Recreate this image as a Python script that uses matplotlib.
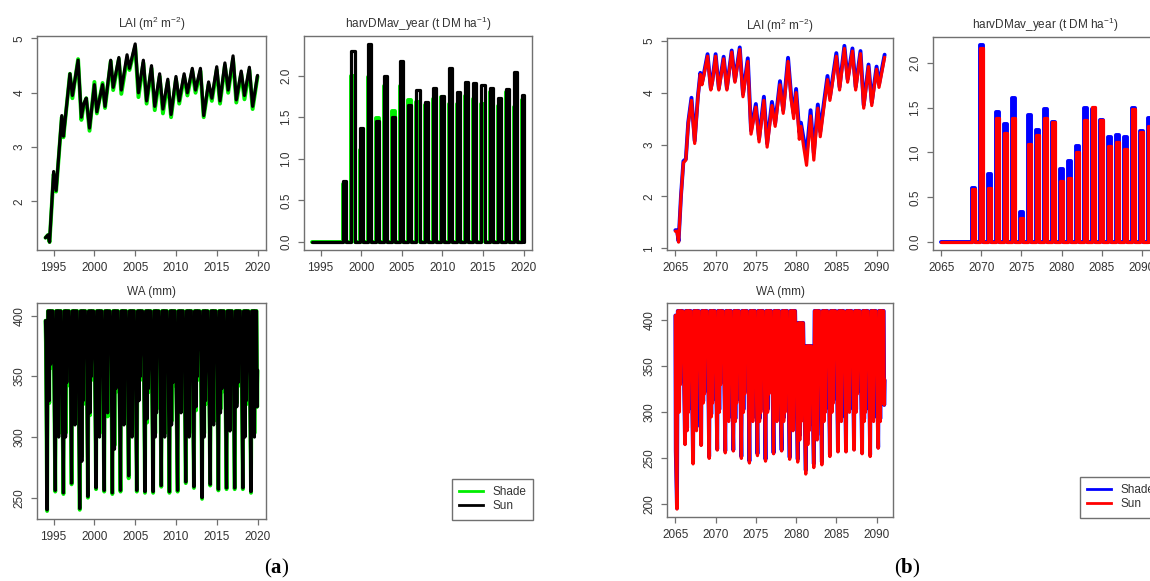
import matplotlib
matplotlib.use("Agg")
import matplotlib.pyplot as plt
from matplotlib.lines import Line2D

plt.rcParams['font.family'] = ['Liberation Sans', 'DejaVu Sans']
plt.rcParams['mathtext.fontset'] = 'custom'
plt.rcParams['mathtext.rm'] = 'Liberation Sans'
plt.rcParams['mathtext.it'] = 'Liberation Sans'
plt.rcParams['mathtext.bf'] = 'Liberation Serif:bold'

# ---------------- data, panel (a) 1994-2020 ----------------
lai_a_t = [1994.0, 1994.3, 1994.5, 1995.0, 1995.3, 1996.0, 1996.2, 1997.0, 1997.3,
           1998.0, 1998.4, 1998.7, 1999.0, 1999.4, 2000.0, 2000.3, 2001.0, 2001.3,
           2002.0, 2002.3, 2003.0, 2003.3, 2004.0, 2004.3, 2005.0, 2005.4, 2006.0,
           2006.4, 2007.0, 2007.4, 2008.0, 2008.4, 2009.0, 2009.4, 2010.0, 2010.4,
           2011.0, 2011.4, 2012.0, 2012.4, 2013.0, 2013.4, 2014.0, 2014.4, 2015.0,
           2015.4, 2016.0, 2016.4, 2017.0, 2017.4, 2018.0, 2018.4, 2019.0, 2019.4, 2020.0]
lai_a_sun = [1.33, 1.38, 1.25, 2.55, 2.2, 3.58, 3.2, 4.35, 3.95,
             4.6, 3.55, 3.8, 3.9, 3.35, 4.15, 3.65, 4.15, 3.75,
             4.6, 4.1, 4.65, 4.05, 4.7, 4.45, 4.9, 4.0, 4.6,
             3.85, 4.5, 3.75, 4.35, 3.7, 4.25, 3.6, 4.3, 3.85,
             4.35, 4.0, 4.45, 4.05, 4.45, 3.58, 4.2, 3.9, 4.48,
             3.85, 4.55, 4.05, 4.68, 3.87, 4.4, 3.95, 4.47, 3.75, 4.32]
lai_a_shade = [1.33, 1.38, 1.25, 2.5, 2.18, 3.55, 3.18, 4.35, 3.9,
               4.62, 3.5, 3.78, 3.9, 3.3, 4.2, 3.62, 4.18, 3.72,
               4.58, 4.05, 4.62, 3.98, 4.62, 4.42, 4.85, 3.92, 4.55,
               3.8, 4.45, 3.68, 4.3, 3.62, 4.2, 3.55, 4.25, 3.8,
               4.3, 3.95, 4.4, 4.0, 4.4, 3.55, 4.15, 3.85, 4.42,
               3.8, 4.5, 4.0, 4.62, 3.82, 4.35, 3.88, 4.42, 3.7, 4.3]

harv_a_years = list(range(1998, 2021))
harv_a_sun = [0.73, 2.30, 1.37, 2.38, 1.46, 2.00, 1.50, 2.18, 1.65, 1.83, 1.68, 1.85,
              1.76, 2.09, 1.80, 1.92, 1.91, 1.89, 1.85, 1.73, 1.84, 2.04, 1.77]
harv_a_shade = [0.70, 2.00, 1.10, 1.98, 1.49, 1.87, 1.57, 1.87, 1.71, 1.68, 1.65, 1.72,
                1.74, 1.66, 1.66, 1.76, 1.72, 1.66, 1.80, 1.64, 1.80, 1.62, 1.71]

wa_a_years = list(range(1994, 2020))
wa_a_peak = [404, 404, 404, 404, 404, 404, 404, 404, 404, 404, 404, 404, 404,
             404, 404, 404, 404, 404, 404, 404, 404, 404, 404, 404, 404, 404]
wa_a_mid_sun = [380, 355, 335, 370, 345, 365, 360, 350, 375, 345, 360, 340, 365,
                350, 370, 355, 330, 360, 345, 370, 350, 365, 340, 355, 360, 350]
wa_a_min_sun = [240, 256, 254, 262, 241, 251, 258, 256, 254, 256, 268, 256, 255,
                255, 260, 255, 256, 263, 259, 250, 261, 257, 258, 258, 258, 255]
wa_a_dip_sun = [330, 350, 300, 340, 280, 320, 310, 350, 290, 340, 345, 330, 315,
                300, 330, 310, 340, 330, 325, 300, 345, 320, 335, 325, 300, 330]
wa_a_dip2_sun = [360, 300, 345, 310, 330, 350, 300, 320, 340, 310, 300, 350, 340,
                 320, 300, 345, 320, 300, 350, 330, 310, 340, 305, 345, 330, 300]
wa_a_mid_shade = [378, 352, 338, 368, 342, 362, 358, 352, 372, 348, 356, 342, 362,
                  352, 366, 352, 334, 358, 348, 366, 352, 362, 344, 352, 357, 352]
wa_a_min_shade = [239, 255, 253, 261, 240, 250, 257, 255, 253, 255, 266, 255, 254,
                  254, 259, 254, 255, 262, 258, 249, 260, 256, 257, 257, 257, 254]
wa_a_dip_shade = [328, 348, 303, 337, 284, 318, 313, 347, 293, 337, 342, 333, 312,
                  303, 327, 313, 337, 333, 322, 303, 342, 323, 332, 328, 303, 327]
wa_a_dip2_shade = [357, 303, 342, 313, 327, 347, 303, 317, 337, 313, 303, 347, 337,
                   323, 303, 342, 323, 303, 347, 327, 313, 337, 308, 342, 327, 303]
wa_a_start = (1994.0, 396)
wa_a_end_t = [2019.96, 2020.0]
wa_a_end_v = [325, 355]

# ---------------- data, panel (b) 2065-2091 ----------------
lai_b_t = [2065.0, 2065.2, 2065.4, 2065.7, 2066.0, 2066.3, 2066.6, 2067.0, 2067.4, 2067.8,
           2068.1, 2068.3, 2068.5, 2069.0, 2069.4, 2069.6, 2070.0, 2070.4, 2071.0, 2071.4,
           2072.0, 2072.4, 2073.0, 2073.4, 2074.0, 2074.4, 2075.0, 2075.4, 2076.0, 2076.4,
           2077.0, 2077.4, 2078.0, 2078.4, 2079.0, 2079.4, 2079.7, 2080.0, 2080.4, 2080.6,
           2080.9, 2081.3, 2081.8, 2082.2, 2082.7, 2083.0, 2083.4, 2083.9, 2084.2, 2085.0,
           2085.4, 2086.0, 2086.4, 2087.0, 2087.4, 2088.0, 2088.4, 2089.0, 2089.4, 2090.0,
           2090.3, 2091.0]
lai_b_sun = [1.33, 1.33, 1.12, 2.0, 2.65, 2.7, 3.4, 3.85, 3.02, 3.9,
             4.35, 4.15, 4.3, 4.7, 4.05, 4.2, 4.7, 4.05, 4.65, 4.05,
             4.78, 4.2, 4.83, 3.92, 4.6, 3.2, 3.72, 3.05, 3.85, 2.95,
             3.75, 3.35, 4.15, 3.6, 4.6, 3.85, 3.5, 4.0, 3.1, 3.35,
             3.0, 2.6, 3.55, 2.7, 3.7, 3.15, 3.65, 4.25, 3.85, 4.7,
             4.05, 4.85, 4.2, 4.8, 4.05, 4.75, 3.7, 4.5, 3.75, 4.45,
             4.1, 4.68]
lai_b_shade = [1.35, 1.35, 1.14, 2.02, 2.68, 2.72, 3.43, 3.9, 3.07, 3.93,
               4.38, 4.18, 4.33, 4.74, 4.08, 4.23, 4.74, 4.08, 4.69, 4.08,
               4.81, 4.23, 4.87, 3.97, 4.66, 3.27, 3.78, 3.11, 3.92, 3.02,
               3.82, 3.41, 4.22, 3.66, 4.67, 3.91, 3.6, 4.07, 3.24, 3.42,
               3.14, 2.82, 3.66, 2.84, 3.77, 3.25, 3.74, 4.32, 3.91, 4.76,
               4.11, 4.9, 4.26, 4.85, 4.11, 4.8, 3.76, 4.54, 3.81, 4.5,
               4.16, 4.73]

harv_b_years = list(range(2069, 2092))
harv_b_shade = [0.60, 2.20, 0.76, 1.45, 1.32, 1.61, 0.34, 1.42, 1.25, 1.49, 1.34, 0.82,
                0.91, 1.07, 1.50, 1.48, 1.36, 1.17, 1.19, 1.17, 1.50, 1.24, 1.38]
harv_b_sun = [0.59, 2.17, 0.60, 1.38, 1.22, 1.39, 0.27, 1.10, 1.20, 1.38, 1.34, 0.68,
              0.72, 1.01, 1.36, 1.51, 1.36, 1.07, 1.12, 1.04, 1.48, 1.23, 1.30]

wa_b_years = list(range(2065, 2091))
wa_b_peak = [410, 410, 410, 410, 410, 410, 410, 410, 410, 410, 410, 410, 410,
             410, 410, 397, 372, 410, 410, 410, 410, 410, 410, 410, 410, 410]
wa_b_mid_sun = [258, 350, 330, 350, 360, 340, 350, 330, 345, 360, 335, 350, 340,
                320, 330, 320, 300, 310, 330, 350, 360, 345, 350, 340, 345, 340]
wa_b_min_sun = [195, 265, 244, 264, 250, 259, 256, 258, 250, 245, 253, 247, 255,
                258, 249, 246, 233, 240, 243, 252, 257, 257, 259, 255, 252, 261]
wa_b_dip_sun = [300, 280, 300, 310, 295, 300, 320, 290, 300, 310, 290, 300, 310,
                290, 285, 270, 265, 280, 290, 300, 320, 310, 300, 290, 300, 290]
wa_b_dip2_sun = [330, 300, 280, 320, 310, 330, 290, 310, 320, 290, 300, 320, 290,
                 300, 280, 290, 280, 270, 300, 310, 290, 300, 320, 300, 290, 310]
wa_b_mid_shade = [258, 352, 333, 352, 362, 343, 352, 333, 347, 362, 338, 352, 343,
                  323, 333, 324, 304, 314, 333, 352, 362, 347, 352, 343, 347, 343]
wa_b_min_shade = [196, 266, 246, 265, 252, 260, 258, 259, 252, 247, 255, 249, 256,
                  259, 251, 249, 237, 244, 246, 254, 258, 258, 260, 256, 254, 262]
wa_b_dip_shade = [302, 283, 303, 312, 298, 303, 322, 293, 303, 312, 293, 303, 312,
                  294, 289, 275, 270, 284, 294, 303, 322, 312, 303, 293, 303, 293]
wa_b_dip2_shade = [332, 303, 284, 322, 313, 332, 294, 313, 322, 294, 303, 322, 294,
                   303, 284, 294, 285, 275, 303, 313, 294, 303, 322, 303, 294, 313]
wa_b_start = (2065.0, 405)
wa_b_end_t = [2090.95, 2091.0]
wa_b_end_v = [308, 335]

# seasonal timing of the water cycle within a year (fraction of year)
season = ['mid', 'min', 'peak', 'peak', 'dip', 'peak', 'dip2', 'peak', 'peak']
season_dt = [0.05, 0.2, 0.3, 0.38, 0.46, 0.54, 0.62, 0.7, 0.88]


def wa_series(start, years, peaks, mids, mins, dips, dips2, end_t, end_v):
    t, v = [start[0]], [start[1]]
    for y, pk, m, lo, d, d2 in zip(years, peaks, mids, mins, dips, dips2):
        vals = {'mid': m, 'min': lo, 'peak': pk, 'dip': d, 'dip2': d2}
        for key, dt in zip(season, season_dt):
            t.append(y + dt)
            v.append(vals[key])
    return t + end_t, v + end_v


def harvest_series(t0, t1, years, vals, half=0.19):
    t, v = [t0], [0.0]
    for y, h in zip(years, vals):
        a, b = y - half, min(y + half, t1)
        t += [a, a, b, b]
        v += [0.0, h, h, 0.0]
    if t[-1] < t1:
        t.append(t1)
        v.append(0.0)
    return t, v


W, H = 1150, 581
fig = plt.figure(figsize=(W / 100, H / 100), dpi=100)
FRAME = '#707070'
TXT = '#333333'


def px_axes(l, t, r, b):
    ax = fig.add_axes([l / W, 1 - b / H, (r - l) / W, (b - t) / H])
    for s in ax.spines.values():
        s.set_color(FRAME)
        s.set_linewidth(1.0)
    ax.tick_params(colors=FRAME, labelcolor=TXT, labelsize=8.5, length=4, width=0.9, pad=4.5)
    ax.margins(0.04)
    return ax


def draw(ax, t, shade, sun, c_shade, c_sun):
    ax.plot(t, shade, color=c_shade, lw=2.8, solid_joinstyle='round', solid_capstyle='round')
    ax.plot(t, sun, color=c_sun, lw=2.3, solid_joinstyle='round', solid_capstyle='round')


def finish(ax, title, xticks, yticks, yfmt):
    ax.set_title(title, fontsize=8.5, color=TXT, pad=6)
    ax.set_xticks(xticks)
    ax.set_yticks(yticks)
    ax.set_yticklabels([yfmt.format(v) for v in yticks], rotation=90, va='center')


t_lai = 'LAI (m$^{2}$ m$^{-2}$)'
t_harv = 'harvDMav_year (t DM ha$^{-1}$)'
t_wa = 'WA (mm)'

for panel in ('a', 'b'):
    if panel == 'a':
        cs, cu = '#00ee00', 'black'
        boxes = [(37, 36, 266, 250), (304, 36, 532, 250), (37, 303, 266, 519)]
        lai = (lai_a_t, lai_a_shade, lai_a_sun)
        hs = harvest_series(1994.0, 2020.0, harv_a_years, harv_a_shade)
        hu = harvest_series(1994.0, 2020.0, harv_a_years, harv_a_sun)
        ws = wa_series(wa_a_start, wa_a_years, wa_a_peak, wa_a_mid_shade, wa_a_min_shade,
                       wa_a_dip_shade, wa_a_dip2_shade, wa_a_end_t, wa_a_end_v)
        wu = wa_series(wa_a_start, wa_a_years, wa_a_peak, wa_a_mid_sun, wa_a_min_sun,
                       wa_a_dip_sun, wa_a_dip2_sun, wa_a_end_t, wa_a_end_v)
        xt = list(range(1995, 2021, 5))
        lai_y = [2, 3, 4, 5]
        wa_y = [250, 300, 350, 400]
        leg_xy = (452, 479)
    else:
        cs, cu = '#0000ff', '#ff0000'
        boxes = [(667, 38, 893, 250), (933, 37, 1158, 250), (667, 303, 893, 517)]
        lai = (lai_b_t, lai_b_shade, lai_b_sun)
        hs = harvest_series(2065.0, 2091.0, harv_b_years, harv_b_shade)
        hu = harvest_series(2065.0, 2091.0, harv_b_years, harv_b_sun)
        ws = wa_series(wa_b_start, wa_b_years, wa_b_peak, wa_b_mid_shade, wa_b_min_shade,
                       wa_b_dip_shade, wa_b_dip2_shade, wa_b_end_t, wa_b_end_v)
        wu = wa_series(wa_b_start, wa_b_years, wa_b_peak, wa_b_mid_sun, wa_b_min_sun,
                       wa_b_dip_sun, wa_b_dip2_sun, wa_b_end_t, wa_b_end_v)
        xt = list(range(2065, 2091, 5))
        lai_y = [1, 2, 3, 4, 5]
        wa_y = [200, 250, 300, 350, 400]
        leg_xy = (1080, 477)

    ax1 = px_axes(*boxes[0])
    draw(ax1, lai[0], lai[1], lai[2], cs, cu)
    finish(ax1, t_lai, xt, lai_y, '{:d}')

    ax2 = px_axes(*boxes[1])
    draw(ax2, hs[0], hs[1], hu[1], cs, cu)
    finish(ax2, t_harv, xt, [0.0, 0.5, 1.0, 1.5, 2.0], '{:.1f}')

    ax3 = px_axes(*boxes[2])
    draw(ax3, ws[0], ws[1], wu[1], cs, cu)
    finish(ax3, t_wa, xt, wa_y, '{:d}')

    handles = [Line2D([], [], color=cs, lw=2.0), Line2D([], [], color=cu, lw=2.0)]
    leg = fig.legend(handles, ['Shade', 'Sun'], loc='upper left',
                     bbox_to_anchor=(leg_xy[0] / W, 1 - leg_xy[1] / H),
                     fontsize=8.5, frameon=True, fancybox=False, framealpha=1,
                     edgecolor=FRAME, handlelength=2.0, handletextpad=0.8,
                     borderpad=0.6, labelspacing=0.2, borderaxespad=0)
    leg.get_frame().set_linewidth(1.0)
    for txt in leg.get_texts():
        txt.set_color(TXT)

fig.text(277 / W, 1 - 568 / H, r'($\mathbf{a}$)', family='Liberation Serif',
         fontsize=15, ha='center', va='center')
fig.text(907 / W, 1 - 568 / H, r'($\mathbf{b}$)', family='Liberation Serif',
         fontsize=15, ha='center', va='center')

fig.savefig('out.png', dpi=100)
